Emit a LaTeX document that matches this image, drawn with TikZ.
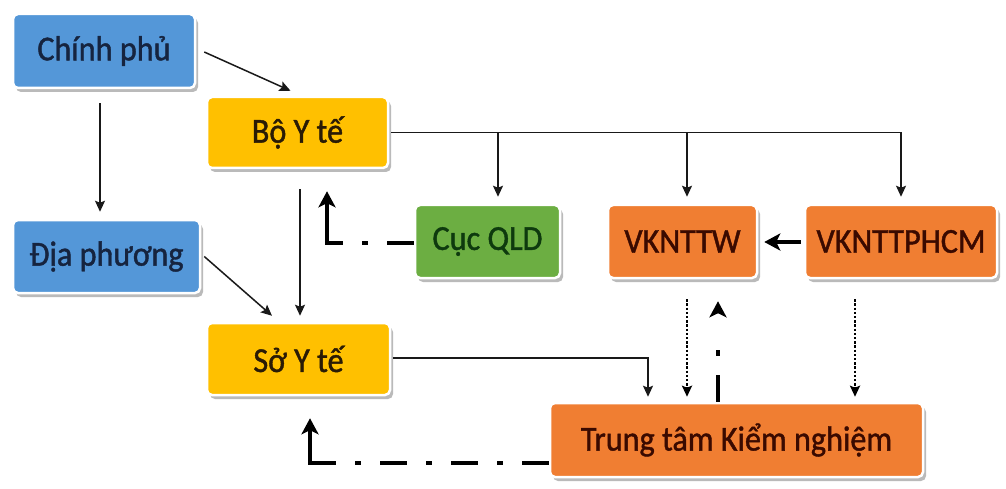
\documentclass[tikz,border=0pt]{standalone}
\usepackage{fontspec}
\setmainfont{Carlito}[FakeStretch=0.92,FakeBold=1.2]
\usetikzlibrary{arrows.meta,shadows,calc}
\definecolor{bluebox}{HTML}{5497D8}
\definecolor{yellowbox}{HTML}{FFC000}
\definecolor{greenbox}{HTML}{6CAE42}
\definecolor{orangebox}{HTML}{F07E32}
\definecolor{bluetext}{HTML}{16243F}
\definecolor{yellowtext}{HTML}{2A1B05}
\definecolor{greentext}{HTML}{0E3A0E}
\definecolor{orangetext}{HTML}{3A0A00}
\tikzset{
  box/.style={rounded corners=5pt, draw=white, line width=2.5pt, inner sep=0pt,
    font=\fontsize{35}{40}\selectfont,
    drop shadow={shadow xshift=3pt, shadow yshift=-4pt, fill=black!45, opacity=0.6}},
  bluenode/.style={box, fill=bluebox, text=bluetext},
  yellownode/.style={box, fill=yellowbox, text=yellowtext},
  greennode/.style={box, fill=greenbox, text=greentext},
  orangenode/.style={box, fill=orangebox, text=orangetext},
  thinarrow/.style={draw=black!90, line width=1.5pt, -{Stealth[length=11pt,width=10pt,inset=2pt]}},
  dottedarrow/.style={draw=black, line width=2.6pt, dash pattern=on 2.4pt off 1.8pt, -{Stealth[length=11pt,width=10pt,inset=2pt]}},
  thickline/.style={draw=black, line width=4.5pt, -{Stealth[length=16pt,width=17pt,inset=4pt]}},
  ddone/.style={thickline, dash pattern=on 27pt off 19pt on 6pt off 19pt on 200pt off 1pt},
  ddthree/.style={thickline, dash pattern=on 27pt off 19pt on 6pt off 19pt on 27pt off 19pt on 6pt off 19pt on 27pt off 19pt on 6pt off 19pt on 200pt off 1pt},
  ddup/.style={thickline, dash pattern=on 27pt off 19pt on 6pt off 200pt},
}
\begin{document}
\begin{tikzpicture}[x=1pt,y=-1pt]
\fill[white] (0,0) rectangle (1006,489);
\useasboundingbox (0,0) rectangle (1006,489);

\node[bluenode, minimum width=182pt, minimum height=74pt] (cp) at (104,51) {Chính phủ};
\node[yellownode, minimum width=181pt, minimum height=71pt] (byt) at (297.5,132.5) {Bộ Y tế};
\node[bluenode, minimum width=187pt, minimum height=73pt] (dp) at (106.5,256.5) {Địa phương};
\node[yellownode, minimum width=183pt, minimum height=72pt] (syt) at (298.5,359) {Sở Y tế};
\node[greennode, minimum width=145pt, minimum height=73pt] (cuc) at (487.5,241.5) {Cục QLD};
\node[orangenode, minimum width=149pt, minimum height=73pt] (vw) at (682.5,241.5) {VKNTTW};
\node[orangenode, minimum width=192pt, minimum height=73pt] (vhcm) at (901,241.5) {VKNTTPHCM};
\node[orangenode, minimum width=373pt, minimum height=74pt] (ttkn) at (736.5,440) {Trung tâm Kiểm nghiệm};

% Chinh phu
\draw[thinarrow] ([xshift=8pt,yshift=-1pt]cp.east) -- ([xshift=-7pt,yshift=5pt]byt.north);
\draw[thinarrow] ([xshift=-4pt,yshift=-14pt]cp.south) -- ([xshift=-6.5pt,yshift=7pt]dp.north);

% Bo Y te
\draw[thinarrow] ([xshift=2.5pt,yshift=-20pt]byt.south) -- ([xshift=1.5pt,yshift=6pt]syt.north);
\draw[thinarrow] ([xshift=2pt]byt.east) -| ([yshift=7pt]vhcm.north);
\draw[thinarrow] ([xshift=10.5pt]cuc.north |- byt.east) -- ([xshift=10.5pt,yshift=7pt]cuc.north);
\draw[thinarrow] ([xshift=4.5pt]vw.north |- byt.east) -- ([xshift=4.5pt,yshift=7pt]vw.north);

% Dia phuong
\draw[thinarrow] ([xshift=3pt]dp.east) -- ([xshift=-26.5pt,yshift=6pt]syt.north);

% Cuc QLD -> Bo Y te
\draw[ddone] ([yshift=-1.5pt]cuc.west) -| ([xshift=29.5pt,yshift=-22pt]byt.south);

% So Y te -> Trung tam
\draw[thinarrow] ([xshift=2pt,yshift=1pt]syt.east) -| ([xshift=-88.5pt,yshift=5pt]ttkn.north);

% Vien -> Trung tam
\draw[dottedarrow] ([xshift=4.5pt,yshift=-20pt]vw.south) -- ([xshift=-49.5pt,yshift=5pt]ttkn.north);
\draw[dottedarrow] ([xshift=-46pt,yshift=-20pt]vhcm.south) -- ([xshift=118.5pt,yshift=5pt]ttkn.north);

% Trung tam -> VKNTTW
\draw[ddup] ([xshift=-18.5pt]ttkn.north) -- ([xshift=35.5pt,yshift=-22pt]vw.south);

% VKNTTPHCM -> VKNTTW
\draw[thickline] ([xshift=-3pt,yshift=-0.5pt]vhcm.west) -- ([xshift=6pt,yshift=-0.5pt]vw.east);

% Trung tam -> So Y te
\draw[ddthree] ([yshift=-23pt]ttkn.west) -| ([xshift=11.5pt,yshift=-22pt]syt.south);
\end{tikzpicture}
\end{document}
